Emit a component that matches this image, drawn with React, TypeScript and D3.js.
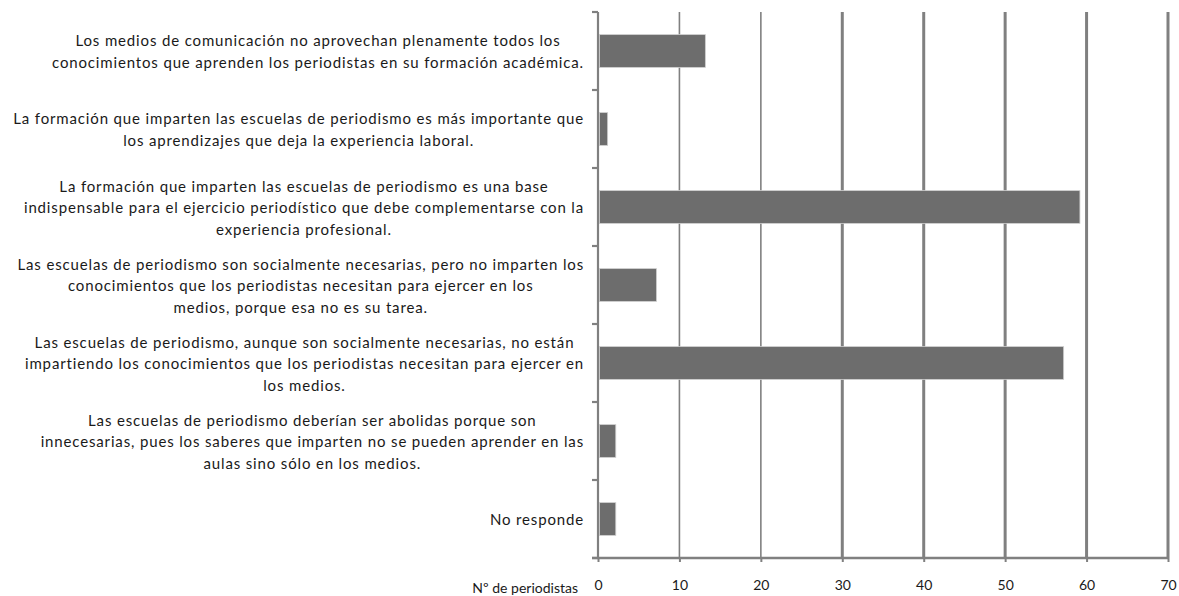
import { useEffect, useRef } from "react";
import * as d3 from "d3";

const categories = [
  ["Los medios de comunicación no aprovechan plenamente todos los", "conocimientos que aprenden los periodistas en su formación académica."],
  ["La formación que imparten las escuelas de periodismo es más importante que", "los aprendizajes que deja la experiencia laboral."],
  ["La formación que imparten las escuelas de periodismo es una base", "indispensable para el ejercicio periodístico que debe complementarse con la", "experiencia profesional."],
  ["Las escuelas de periodismo son socialmente necesarias, pero no imparten los", "conocimientos que los periodistas necesitan para ejercer en los", "medios, porque esa no es su tarea."],
  ["Las escuelas de periodismo, aunque son socialmente necesarias, no están", "impartiendo los conocimientos que los periodistas necesitan para ejercer en", "los medios."],
  ["Las escuelas de periodismo deberían ser abolidas porque son", "innecesarias, pues los saberes que imparten no se pueden aprender en las", "aulas sino sólo en los medios."],
  ["No responde"],
];
const values = [13, 1, 59, 7, 57, 2, 2];
const xTicks = [0, 10, 20, 30, 40, 50, 60, 70];
const axisTitle = "Nº de periodistas";

const W = 1179;
const H = 596;
const FONT = "Lato, 'Open Sans', sans-serif";
const GREY = "#808080";

const App = () => {
  const gLabels = useRef<SVGGElement | null>(null);
  const gX = useRef<SVGGElement | null>(null);

  const x = d3.scaleLinear().domain([0, 70]).range([598, 1168]);
  const keys = categories.map((_, i) => String(i));
  const y = d3
    .scaleBand()
    .domain(keys)
    .range([12, 558])
    .paddingInner(0.58)
    .paddingOuter(0.29);
  const step = y.step();
  const bandTop = (i: number) => y.range()[0] + i * step;

  useEffect(() => {
    if (!gLabels.current) return;
    const g = d3.select(gLabels.current);
    g.selectAll("*").remove();
    const lineH = 21.5;
    categories.forEach((lines, i) => {
      const cy = (y(String(i)) ?? 0) + y.bandwidth() / 2;
      const t = g
        .append("text")
        .attr("font-family", FONT)
        .attr("font-size", 15)
        .attr("letter-spacing", 0.85)
        .attr("fill", "#1a1a1a")
        .attr("text-anchor", "middle");
      const spans = lines.map((line, j) =>
        t
          .append("tspan")
          .attr("y", cy + (j - (lines.length - 1) / 2) * lineH + 6)
          .text(line)
      );
      const maxW = d3.max(spans, (s) => (s.node() as SVGTSpanElement).getComputedTextLength()) ?? 0;
      spans.forEach((s) => s.attr("x", 584 - maxW / 2));
    });
  }, []);

  useEffect(() => {
    if (!gX.current) return;
    const g = d3.select(gX.current);
    g.call(d3.axisBottom(x).tickValues(xTicks).tickSize(4).tickPadding(18));
    g.select(".domain").remove();
    g.selectAll(".tick line").attr("stroke", GREY).attr("stroke-width", 2);
    g.selectAll(".tick text")
      .attr("font-family", FONT)
      .attr("font-size", 14)
      .attr("fill", "#1a1a1a");
  }, []);

  return (
    <svg width={W} height={H} style={{ position: "absolute", left: 0, top: 0, background: "#fff" }}>
      <g>
        {xTicks.slice(1).map((t) => (
          <line
            key={t}
            x1={x(t)}
            x2={x(t)}
            y1={12}
            y2={558}
            stroke={GREY}
            strokeWidth={t <= 20 ? 1.6 : 3}
          />
        ))}
      </g>
      <g>
        {values.map((v, i) => (
          <rect
            key={i}
            x={x(0) + 1.5}
            y={y(String(i))}
            width={x(v) - x(0)}
            height={y.bandwidth()}
            fill="#6d6d6d"
            stroke="#cfcfcf"
            strokeWidth={0.8}
          />
        ))}
      </g>
      <g stroke={GREY} strokeWidth={2.2}>
        <line x1={x(0)} x2={x(0)} y1={12} y2={558} />
        {d3.range(categories.length + 1).map((i) => (
          <line key={i} x1={x(0) - 6} x2={x(0)} y1={bandTop(i)} y2={bandTop(i)} />
        ))}
        <line x1={x(0) - 6} x2={x(70) + 1} y1={558} y2={558} strokeWidth={2.6} />
      </g>
      <g ref={gX} transform="translate(0,558)" />
      <g ref={gLabels} />
      <text
        x={578}
        y={593}
        textAnchor="end"
        fontFamily={FONT}
        fontSize={14}
        fill="#1a1a1a"
      >
        {axisTitle}
      </text>
    </svg>
  );
};

export default App;
